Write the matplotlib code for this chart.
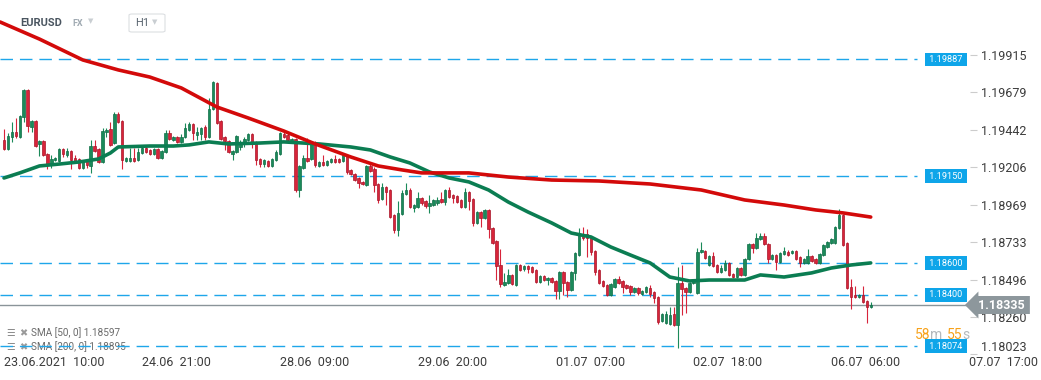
import numpy as np
import matplotlib.pyplot as plt
from matplotlib.transforms import blended_transform_factory
from matplotlib.patches import FancyBboxPatch

plt.rcParams['font.family'] = ['Roboto', 'DejaVu Sans']

# EURUSD H1 candles, prices in points (1 point = 0.00001)
opens = [
    119378, 119321, 119397, 119429, 119397, 119524, 119694, 119460, 119498, 119353,
    119372, 119290, 119220, 119252, 119245, 119321, 119283, 119309, 119264, 119258,
    119201, 119245, 119214, 119340, 119321, 119239, 119429, 119448, 119359, 119543,
    119498, 119245, 119245, 119264, 119252, 119296, 119328, 119315, 119290, 119321,
    119264, 119302, 119422, 119378, 119397, 119366, 119397, 119441, 119479, 119410,
    119416, 119460, 119397, 119574, 119738, 119498, 119397, 119372, 119290, 119302,
    119334, 119353, 119378, 119416, 119366, 119258, 119226, 119245, 119214, 119252,
    119290, 119416, 119410, 119372, 119385, 119062, 119201, 119264, 119258, 119359,
    119214, 119239, 119220, 119239, 119258, 119258, 119245, 119283, 119189, 119163,
    119138, 119113, 119094, 119214, 119195, 119100, 119005, 119081, 119062, 118904,
    118809, 118910, 119037, 119062, 118948, 118955, 119012, 118993, 118961, 118967,
    118980, 119005, 118986, 119062, 119031, 119024, 118999, 118955, 119050, 119005,
    118854, 118923, 118885, 118936, 118822, 118740, 118588, 118462, 118474, 118525,
    118462, 118588, 118563, 118582, 118575, 118556, 118481, 118519, 118493, 118506,
    118487, 118424, 118544, 118481, 118430, 118538, 118651, 118778, 118784, 118765,
    118677, 118556, 118487, 118462, 118398, 118449, 118500, 118487, 118462, 118455,
    118417, 118443, 118405, 118417, 118443, 118417, 118386, 118234, 118222, 118215,
    118278, 118209, 118474, 118443, 118417, 118474, 118411, 118670, 118677, 118588,
    118645, 118588, 118544, 118556, 118601, 118531, 118512, 118569, 118525, 118626,
    118721, 118696, 118752, 118771, 118721, 118626, 118651, 118607, 118658, 118670,
    118664, 118677, 118639, 118601, 118601, 118645, 118626, 118601, 118651, 118702,
    118727, 118727, 118822, 118904, 118727, 118449, 118398, 118386, 118398, 118361,
    118323]
highs = [
    119448, 119422, 119492, 119517, 119536, 119700, 119700, 119505, 119505, 119378,
    119378, 119296, 119283, 119271, 119328, 119328, 119328, 119315, 119283, 119264,
    119252, 119252, 119378, 119378, 119328, 119454, 119454, 119492, 119555, 119555,
    119505, 119271, 119328, 119328, 119328, 119347, 119347, 119321, 119328, 119328,
    119315, 119441, 119441, 119403, 119403, 119416, 119486, 119492, 119486, 119460,
    119460, 119473, 119644, 119751, 119745, 119505, 119403, 119378, 119315, 119410,
    119378, 119397, 119422, 119422, 119372, 119264, 119258, 119252, 119264, 119315,
    119429, 119441, 119429, 119391, 119391, 119220, 119283, 119391, 119372, 119372,
    119245, 119283, 119252, 119264, 119283, 119264, 119290, 119290, 119195, 119170,
    119144, 119119, 119220, 119226, 119208, 119106, 119106, 119087, 119068, 118910,
    118993, 119062, 119106, 119075, 118974, 119050, 119018, 118999, 119031, 119005,
    119018, 119050, 119068, 119081, 119037, 119031, 119005, 119075, 119056, 119012,
    118929, 118929, 118942, 118942, 118828, 118746, 118689, 118538, 118563, 118531,
    118594, 118594, 118588, 118588, 118582, 118563, 118525, 118525, 118512, 118512,
    118493, 118550, 118550, 118487, 118550, 118670, 118822, 118828, 118816, 118771,
    118683, 118563, 118493, 118468, 118474, 118506, 118519, 118493, 118468, 118462,
    118449, 118449, 118430, 118455, 118462, 118424, 118392, 118285, 118297, 118323,
    118323, 118575, 118588, 118449, 118481, 118493, 118696, 118734, 118683, 118651,
    118670, 118594, 118588, 118620, 118607, 118538, 118575, 118575, 118632, 118727,
    118727, 118790, 118790, 118790, 118727, 118658, 118658, 118670, 118702, 118683,
    118683, 118683, 118645, 118632, 118689, 118651, 118632, 118664, 118721, 118740,
    118759, 118835, 118942, 118910, 118734, 118500, 118455, 118405, 118455, 118367,
    118354]
lows = [
    119315, 119315, 119366, 119391, 119391, 119492, 119429, 119429, 119334, 119277,
    119277, 119195, 119201, 119245, 119239, 119271, 119271, 119195, 119233, 119195,
    119195, 119201, 119170, 119302, 119233, 119233, 119397, 119340, 119353, 119486,
    119195, 119239, 119239, 119239, 119245, 119290, 119296, 119283, 119283, 119258,
    119258, 119296, 119378, 119372, 119359, 119359, 119391, 119435, 119378, 119378,
    119378, 119378, 119391, 119568, 119479, 119378, 119315, 119296, 119252, 119296,
    119315, 119334, 119372, 119328, 119220, 119208, 119208, 119208, 119208, 119245,
    119283, 119391, 119366, 119366, 119050, 119018, 119195, 119239, 119252, 119208,
    119208, 119214, 119214, 119233, 119233, 119233, 119239, 119163, 119157, 119119,
    119075, 119094, 119087, 119176, 119050, 118980, 118999, 118967, 118885, 118790,
    118771, 118904, 119031, 118948, 118923, 118948, 118967, 118948, 118917, 118961,
    118967, 118980, 118967, 119012, 118980, 118980, 118948, 118948, 118936, 118835,
    118847, 118828, 118879, 118759, 118721, 118493, 118449, 118455, 118468, 118462,
    118455, 118550, 118550, 118538, 118538, 118474, 118474, 118487, 118462, 118474,
    118373, 118373, 118398, 118386, 118424, 118493, 118645, 118746, 118639, 118651,
    118525, 118468, 118449, 118392, 118392, 118443, 118468, 118411, 118436, 118398,
    118411, 118398, 118398, 118411, 118386, 118348, 118215, 118228, 118215, 118209,
    118203, 118064, 118272, 118285, 118411, 118468, 118405, 118664, 118626, 118582,
    118575, 118538, 118538, 118550, 118519, 118506, 118506, 118519, 118519, 118620,
    118664, 118689, 118746, 118715, 118601, 118620, 118556, 118601, 118651, 118645,
    118658, 118620, 118575, 118594, 118594, 118607, 118594, 118594, 118645, 118696,
    118721, 118721, 118816, 118708, 118436, 118310, 118380, 118380, 118348, 118222,
    118316]
closes = [
    119321, 119403, 119429, 119403, 119530, 119694, 119467, 119498, 119340, 119372,
    119283, 119226, 119258, 119264, 119321, 119290, 119309, 119252, 119245, 119201,
    119245, 119220, 119340, 119309, 119239, 119435, 119441, 119347, 119543, 119492,
    119252, 119264, 119264, 119245, 119302, 119328, 119302, 119290, 119321, 119264,
    119309, 119422, 119385, 119397, 119366, 119397, 119454, 119479, 119422, 119429,
    119454, 119397, 119574, 119745, 119486, 119385, 119372, 119302, 119309, 119403,
    119366, 119385, 119416, 119366, 119252, 119226, 119252, 119214, 119258, 119302,
    119422, 119397, 119378, 119385, 119062, 119214, 119264, 119245, 119359, 119220,
    119239, 119220, 119245, 119258, 119239, 119239, 119283, 119176, 119163, 119125,
    119106, 119100, 119214, 119182, 119094, 118999, 119081, 119050, 118891, 118809,
    118917, 119043, 119062, 118955, 118967, 119012, 118980, 118961, 118980, 118999,
    118999, 118986, 119062, 119018, 119012, 118986, 118955, 119050, 118993, 118854,
    118923, 118885, 118936, 118816, 118727, 118582, 118468, 118481, 118525, 118468,
    118588, 118556, 118582, 118563, 118544, 118481, 118519, 118493, 118506, 118481,
    118424, 118544, 118474, 118430, 118544, 118664, 118778, 118759, 118759, 118670,
    118544, 118474, 118455, 118398, 118468, 118500, 118474, 118449, 118443, 118417,
    118443, 118411, 118424, 118449, 118405, 118380, 118228, 118278, 118278, 118272,
    118209, 118474, 118436, 118417, 118474, 118487, 118670, 118683, 118632, 118645,
    118582, 118544, 118569, 118601, 118525, 118512, 118569, 118525, 118626, 118721,
    118696, 118759, 118771, 118721, 118626, 118651, 118607, 118664, 118677, 118651,
    118677, 118626, 118601, 118626, 118645, 118613, 118601, 118658, 118715, 118734,
    118752, 118828, 118904, 118715, 118443, 118386, 118386, 118398, 118354, 118323,
    118335]

# moving averages (candle index, points)
sma50_idx = [0, 4, 9, 14, 19, 24, 27, 29, 37, 43, 47, 52, 57, 65, 71, 80, 88, 93, 98, 103,
             108, 113, 118, 123, 128, 133, 139, 144, 149, 154, 159, 164, 169, 174, 179, 188,
             192, 198, 205, 210, 215, 220]
sma50 = [119138, 119170, 119214, 119226, 119239, 119258, 119296, 119334, 119340, 119340,
         119347, 119366, 119353, 119359, 119366, 119353, 119334, 119315, 119271, 119233,
         119176, 119138, 119113, 119062, 118986, 118923, 118854, 118790, 118765, 118702,
         118651, 118601, 118512, 118487, 118493, 118493, 118525, 118512, 118538, 118569,
         118588, 118601]
sma200_idx = [-1, 9, 20, 29, 37, 45, 54, 62, 71, 79, 88, 95, 101, 106, 118, 128, 139, 151,
              164, 177, 188, 198, 206, 213, 220]
sma200 = [120124, 120016, 119884, 119821, 119776, 119707, 119587, 119517, 119435, 119353,
          119271, 119214, 119189, 119170, 119170, 119144, 119125, 119119, 119100, 119062,
          118999, 118967, 118936, 118917, 118891]

levels = [1.19887, 1.19150, 1.18600, 1.18400, 1.18074]
last_price = 1.18335
sma50_last = 1.18597
sma200_last = 1.18895

yticks = [1.18023, 1.18260, 1.18496, 1.18733, 1.18969, 1.19206, 1.19442, 1.19679, 1.19915]
xticks = [0, 35, 70, 105, 140, 175, 210, 245]
xlabels = ['23.06.2021  10:00', '24.06  21:00', '28.06  09:00', '29.06  20:00',
           '01.07  07:00', '02.07  18:00', '06.07  06:00', '07.07  17:00']

o = np.array(opens) / 1e5
h = np.array(highs) / 1e5
l = np.array(lows) / 1e5
c = np.array(closes) / 1e5
up = c >= o
x = np.arange(len(o))

fig = plt.figure(figsize=(10.41, 3.80), dpi=100)
ax = fig.add_axes([0, 25 / 380, 970 / 1041, 355 / 380])
ax.set_xlim(-1.02, 245.2)
ax.set_ylim(1.18019, 1.20263)

green, red = '#1b8a5a', '#d8243a'
cols = np.where(up, green, red)
edges = np.where(up, '#0f6e47', '#a8172a')
ax.vlines(x, l, h, colors=cols, lw=0.8, zorder=3)
ax.bar(x, np.maximum(np.abs(c - o), 0.00001), bottom=np.minimum(o, c), width=0.62,
       color=cols, edgecolor=edges, linewidth=0.5, zorder=3.5)

ax.plot(sma50_idx, np.array(sma50) / 1e5, color='#0b7d52', lw=2.6, zorder=5,
        solid_capstyle='round', solid_joinstyle='round')
ax.plot(sma200_idx, np.array(sma200) / 1e5, color='#d30a0a', lw=2.6, zorder=5,
        solid_capstyle='round', solid_joinstyle='round')

trans = blended_transform_factory(ax.transAxes, ax.transData)
for lv in levels:
    ax.axhline(lv, xmin=0, xmax=917 / 970, color='#1ea6ea', lw=1.0, ls=(0, (9, 5)), zorder=2)
    ax.text(946 / 970, lv, f' {lv:.5f} ', transform=trans, ha='center', va='center',
            color='white', fontsize=6.6, zorder=8,
            bbox=dict(boxstyle='square,pad=0.27', fc='#0ea5e9', ec='none'))

ax.axhline(last_price, color='#8a9499', lw=1.0, zorder=2.5)
ax.text(1001 / 970, last_price, f' {last_price:.5f} ', transform=trans, ha='center',
        va='center', color='white', fontsize=9, fontweight='bold', zorder=10,
        clip_on=False, bbox=dict(boxstyle='larrow,pad=0.2', fc='#8d979c', ec='none'))

for s in ax.spines.values():
    s.set_visible(False)

ax.set_xticks(xticks)
ax.set_xticklabels(xlabels, ha='left')
ax.tick_params(axis='x', length=0, labelsize=9, labelcolor='#3c3c3c', pad=0.5)
ax.yaxis.tick_right()
ax.set_yticks(yticks)
ax.set_yticklabels([f'{v:.5f}' for v in yticks])
ax.tick_params(axis='y', length=5, color='#cccccc', labelsize=9, labelcolor='#3c3c3c', pad=3)
ax.get_yticklabels()[0].set_va('bottom')

# indicator legend, bottom-left
for yy, txt in [(333, f'SMA [50, 0] {sma50_last:.5f}'), (347, f'SMA [200, 0] {sma200_last:.5f}')]:
    ya = 1 - yy / 355
    ax.text(6 / 970, ya, '☰', transform=ax.transAxes, fontsize=7, color='#8c8c8c',
            va='center', zorder=1)
    ax.text(19 / 970, ya, '✖', transform=ax.transAxes, fontsize=7, color='#9a9a9a',
            va='center', zorder=1)
    ax.text(31 / 970, ya, txt, transform=ax.transAxes, fontsize=7.2, color='#6a6a6a',
            va='center', zorder=1)

# header
def fpos(px, py):
    return px / 1041, 1 - py / 380

fig.text(*fpos(20, 23), 'EURUSD', fontsize=8, fontweight='bold', color='#4a5560', va='center')
fig.text(*fpos(72, 24), 'FX', fontsize=6.5, fontweight='bold', color='#a0aab2', va='center')
fig.text(*fpos(88, 22), '▼', fontsize=5, color='#c9ced2', va='center')
fig.add_artist(FancyBboxPatch(fpos(129, 32), 36 / 1041, 18 / 380,
                              boxstyle='round,pad=0,rounding_size=0.003',
                              transform=fig.transFigure, fc='white', ec='#dcdfe2', lw=0.8))
fig.text(*fpos(135, 23), 'H1', fontsize=8, color='#5a6570', va='center')
fig.text(*fpos(152, 23), '▼', fontsize=5, color='#c9ced2', va='center')

# countdown to bar close
for px, txt, col in [(915, '58', '#f7a21b'), (930, 'm', '#b4b9bd'),
                     (947, '55', '#f7a21b'), (962, 's', '#b4b9bd')]:
    fig.text(*fpos(px, 335), txt, fontsize=10, color=col, va='center')

fig.savefig('out.png', dpi=100, facecolor='white')
